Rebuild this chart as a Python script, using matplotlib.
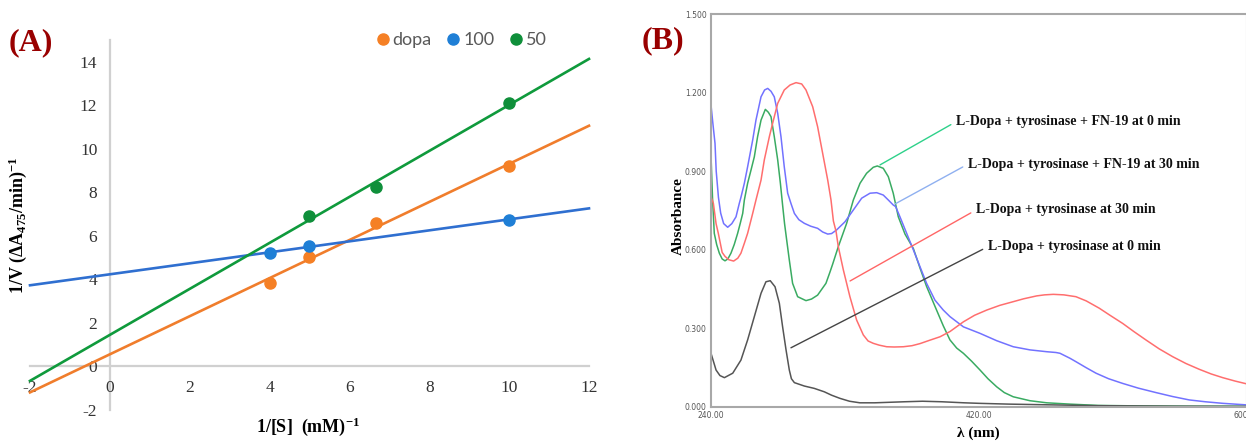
import matplotlib
matplotlib.use("Agg")
import matplotlib.pyplot as plt
import numpy as np

plt.rcParams['mathtext.fontset'] = 'custom'
plt.rcParams['mathtext.rm'] = 'Liberation Serif:bold'
plt.rcParams['mathtext.it'] = 'Liberation Serif:bold'
plt.rcParams['mathtext.bf'] = 'Liberation Serif:bold'
plt.rcParams['axes.unicode_minus'] = False

# ---------------- Panel A data (Lineweaver-Burk) ----------------
dopa_x = [4, 5, 6.67, 10]
dopa_y = [3.85, 5.05, 6.6, 9.2]
c100_x = [4, 5, 10]
c100_y = [5.2, 5.55, 6.75]
c50_x = [5, 6.67, 10]
c50_y = [6.9, 8.25, 12.1]
series_names = ['dopa', '100', '50']
a_xticks = [-2, 0, 2, 4, 6, 8, 10, 12]
a_yticks = [-2, 0, 2, 4, 6, 8, 10, 12, 14]

# ---------------- Panel B data (UV-Vis spectra) ----------------
blk_nm = [240, 243.4, 246, 249, 254.6, 260.1, 264.6, 269.1, 273.6, 276.9, 279.8, 283, 285.9,
          288.1, 290.4, 292.6, 294, 296, 302.7, 309.4, 316.1, 321, 326.6, 333, 340, 350, 360,
          370, 382, 395, 410, 420, 440, 460, 480, 500, 550, 600]
blk_ab = [0.205, 0.141, 0.12, 0.112, 0.129, 0.179, 0.256, 0.345, 0.434, 0.478, 0.482, 0.459,
          0.396, 0.306, 0.218, 0.141, 0.108, 0.093, 0.080, 0.071, 0.058, 0.045, 0.033, 0.022,
          0.016, 0.016, 0.018, 0.02, 0.022, 0.02, 0.016, 0.014, 0.011, 0.009, 0.007, 0.005,
          0.003, 0.002]

grn_nm = [240, 241, 242.2, 243.8, 245.6, 247.5, 249.4, 251.3, 253.4, 255.6, 257.9, 259.6, 261.3,
          262.4, 264.6, 266.9, 269.1, 271.3, 273.6, 276.5, 278.5, 280.3, 282.5, 284.8, 286.6,
          288.1, 289.4, 291.0, 292.6, 294.8, 298.2, 303.8, 307.5, 311.6, 317.2, 319.9, 321.7,
          325.5, 331.1, 335.6, 340.1, 344.5, 349, 351.7, 355.7, 359.1, 362.4, 365.8, 370.3,
          375.9, 380.4, 384.8, 390, 396, 400.5, 405, 409.5, 415, 420.7, 426, 431.9, 437, 443,
          454.2, 465.5, 481, 500, 530, 560, 600]
grn_ab = [0.96, 0.80, 0.663, 0.62, 0.587, 0.565, 0.558, 0.565, 0.587, 0.62, 0.663, 0.70, 0.739,
          0.79, 0.854, 0.905, 0.955, 1.032, 1.095, 1.136, 1.125, 1.108, 1.032, 0.943, 0.854, 0.77,
          0.70, 0.63, 0.561, 0.472, 0.421, 0.406, 0.412, 0.427, 0.472, 0.515, 0.545, 0.612, 0.701,
          0.79, 0.854, 0.892, 0.915, 0.92, 0.911, 0.879, 0.816, 0.726, 0.66, 0.605, 0.53, 0.46,
          0.39, 0.31, 0.256, 0.225, 0.205, 0.175, 0.141, 0.108, 0.077, 0.055, 0.039, 0.024, 0.016,
          0.011, 0.006, 0.004, 0.003, 0.003]

blu_nm = [240, 241.3, 242.7, 243.5, 245, 246.5, 248.5, 251.2, 254, 256.8, 259, 260.1, 262.4,
          264.6, 268, 270.2, 273.6, 276, 278.1, 280.3, 282.5, 284.8, 287, 289.2, 291.5, 293.7,
          296, 299, 302.7, 307, 311.6, 315, 318.4, 321, 324.4, 330, 335.6, 341.2, 346.8, 351.3,
          355.7, 359.1, 362.4, 364, 366.9, 371.4, 375.9, 380.4, 384.8, 390.4, 396, 400.5, 409.5,
          420.7, 431.9, 443, 454.2, 465.5, 471.7, 474.4, 481.1, 485.1, 492, 498.6, 507, 516.5,
          527, 538.9, 550, 561.2, 572, 583.7, 600]
blu_ab = [1.153, 1.08, 1.006, 0.90, 0.80, 0.74, 0.70, 0.686, 0.70, 0.726, 0.777, 0.80, 0.854,
          0.917, 1.019, 1.095, 1.184, 1.21, 1.216, 1.205, 1.184, 1.121, 1.032, 0.917, 0.816,
          0.777, 0.739, 0.715, 0.701, 0.69, 0.682, 0.668, 0.66, 0.662, 0.676, 0.707, 0.752, 0.797,
          0.816, 0.818, 0.809, 0.79, 0.771, 0.765, 0.726, 0.663, 0.60, 0.535, 0.472, 0.408, 0.37,
          0.345, 0.306, 0.281, 0.253, 0.230, 0.218, 0.211, 0.208, 0.205, 0.186, 0.173, 0.15,
          0.129, 0.108, 0.09, 0.072, 0.055, 0.04, 0.027, 0.02, 0.014, 0.008]

red_nm = [240, 241.6, 243.4, 244.9, 247.5, 249.4, 252, 255.2, 258, 260.1, 262.4, 264.6, 268,
          270.2, 273.6, 275.8, 279.2, 281.4, 284.8, 289.2, 293.1, 297.1, 300.9, 303.8, 308.3,
          311.6, 315, 318.4, 320.6, 322.2, 324, 325.5, 328.9, 333.3, 337.8, 342.3, 345.5, 349,
          353, 358, 363, 369.2, 375, 380.4, 387, 393.8, 400.5, 409.5, 417, 425.2, 434, 443, 450,
          458.7, 464, 469.9, 477, 485.1, 492, 500.8, 508, 516.5, 524, 532.1, 541, 550.1, 559,
          567.9, 576, 583.7, 592, 600]
red_ab = [0.803, 0.777, 0.70, 0.663, 0.59, 0.575, 0.562, 0.557, 0.568, 0.587, 0.625, 0.663,
          0.739, 0.79, 0.866, 0.943, 1.032, 1.083, 1.159, 1.21, 1.229, 1.238, 1.233, 1.21, 1.146,
          1.07, 0.968, 0.866, 0.79, 0.71, 0.67, 0.612, 0.523, 0.421, 0.332, 0.275, 0.252, 0.243,
          0.236, 0.230, 0.229, 0.230, 0.234, 0.242, 0.255, 0.268, 0.288, 0.325, 0.35, 0.37, 0.388,
          0.402, 0.413, 0.424, 0.428, 0.430, 0.428, 0.421, 0.405, 0.377, 0.35, 0.319, 0.288,
          0.256, 0.222, 0.192, 0.166, 0.144, 0.126, 0.112, 0.099, 0.088]

spectra_labels = ['L-Dopa + tyrosinase + FN-19 at 0 min',
                  'L-Dopa + tyrosinase + FN-19 at 30 min',
                  'L-Dopa + tyrosinase at 30 min',
                  'L-Dopa + tyrosinase at 0 min']
b_xticks = [240, 420, 600]
b_yticks = [0.0, 0.3, 0.6, 0.9, 1.2, 1.5]

# ---------------- figure ----------------
W, H = 1246, 441
fig = plt.figure(figsize=(W / 100, H / 100), dpi=100)


def box(l, t, r, b):
    return [l / W, 1 - b / H, (r - l) / W, (b - t) / H]


SERIF = 'Liberation Serif'

# ===== Panel A =====
axA = fig.add_axes(box(30, 40, 589, 410))
axA.set_xlim(-2, 12)
axA.set_ylim(-2, 15)
for s in ['top', 'right']:
    axA.spines[s].set_visible(False)
axA.spines['bottom'].set_position(('data', 0))
axA.spines['left'].set_position(('data', 0))
for s in ['bottom', 'left']:
    axA.spines[s].set_color('#d0d0d0')
    axA.spines[s].set_linewidth(1.6)
    axA.spines[s].set_zorder(0)
axA.set_xticks(a_xticks)
axA.set_yticks(a_yticks)
axA.tick_params(axis='x', length=0, pad=10, labelsize=12.5, labelcolor='#333333')
axA.tick_params(axis='y', length=0, pad=9, labelsize=12.5, labelcolor='#333333')
for lab in axA.get_xticklabels() + axA.get_yticklabels():
    lab.set_family(SERIF)

colA = {'dopa': ('#f07d2c', '#f58025'), '100': ('#2f6fd0', '#1f7fd6'), '50': ('#0f9a3c', '#0f8f3a')}
xs_all = [dopa_x, c100_x, c50_x]
ys_all = [dopa_y, c100_y, c50_y]
xl = np.array(axA.get_xlim())
handles = []
for name, xs, ys in zip(series_names, xs_all, ys_all):
    lc, mc = colA[name]
    k, b = np.polyfit(xs, ys, 1)
    axA.plot(xl, k * xl + b, color=lc, lw=1.9, zorder=2, clip_on=False)
    h, = axA.plot(xs, ys, 'o', color=mc, ms=8, zorder=3, label=name, clip_on=False)
    handles.append(h)

leg = fig.legend(handles=handles, loc='center', bbox_to_anchor=(462 / W, 1 - 40 / H), ncol=3,
                 frameon=False, handlelength=0.6, handletextpad=0.25, columnspacing=0.9,
                 prop={'family': 'Lato', 'size': 13})
for t in leg.get_texts():
    t.set_color('#595959')

fig.text(18 / W, 1 - 225 / H, r'1/V (ΔA$_{475}$/min)$^{-1}$', rotation=90, ha='center', va='center',
         family=SERIF, weight='bold', fontsize=13)
fig.text(308 / W, 1 - 427 / H, r'1/[S]  (mM)$^{-1}$', ha='center', va='center',
         family=SERIF, weight='bold', fontsize=13)
fig.text(31 / W, 1 - 43 / H, '(A)', ha='center', va='center', family=SERIF, weight='bold',
         fontsize=23, color='#990000')

# ===== Panel B =====
axB = fig.add_axes(box(711, 14, 1247, 407))
axB.set_xlim(240, 600)
axB.set_ylim(0, 1.5)
for s in axB.spines.values():
    s.set_color('#a8a8a8')
    s.set_linewidth(1.5)
axB.set_xticks(b_xticks)
axB.set_xticklabels([f'{v:.2f}' for v in b_xticks])
axB.set_yticks(b_yticks)
axB.set_yticklabels([f'{v:.3f}' for v in b_yticks])
axB.tick_params(length=0, labelsize=5.5, labelcolor='#555555')
axB.tick_params(axis='x', pad=3)
axB.tick_params(axis='y', pad=3)

curves = [(grn_nm, grn_ab, '#3aab62'), (blu_nm, blu_ab, '#7272ff'),
          (red_nm, red_ab, '#ff6e6e'), (blk_nm, blk_ab, '#555555')]
for nm, ab, c in curves:
    axB.plot(nm, ab, color=c, lw=1.1, solid_joinstyle='round')

leader_cols = ['#2ed18a', '#8fb0f0', '#ff6666', '#444444']
leader_xy = [(353.5, 0.924), (363.6, 0.775), (333.4, 0.481), (293.7, 0.226)]
text_xy = [(404.6, 1.089), (412.6, 0.927), (418.0, 0.752), (426.0, 0.612)]
for lab, c, xy, txy in zip(spectra_labels, leader_cols, leader_xy, text_xy):
    axB.annotate(lab, xy=xy, xytext=txy, ha='left', va='center', family=SERIF,
                 weight='bold', fontsize=10, color='#111111',
                 arrowprops=dict(arrowstyle='-', color=c, lw=1.0, relpos=(0, 0.5),
                                 shrinkA=2, shrinkB=0))

fig.text(678 / W, 1 - 216 / H, 'Absorbance', rotation=90, ha='center', va='center',
         family=SERIF, weight='bold', fontsize=11)
fig.text(978 / W, 1 - 433 / H, 'λ (nm)', ha='center', va='center',
         family=SERIF, weight='bold', fontsize=11)
fig.text(663 / W, 1 - 41 / H, '(B)', ha='center', va='center', family=SERIF, weight='bold',
         fontsize=23, color='#990000')

fig.savefig('out.png', dpi=100)
